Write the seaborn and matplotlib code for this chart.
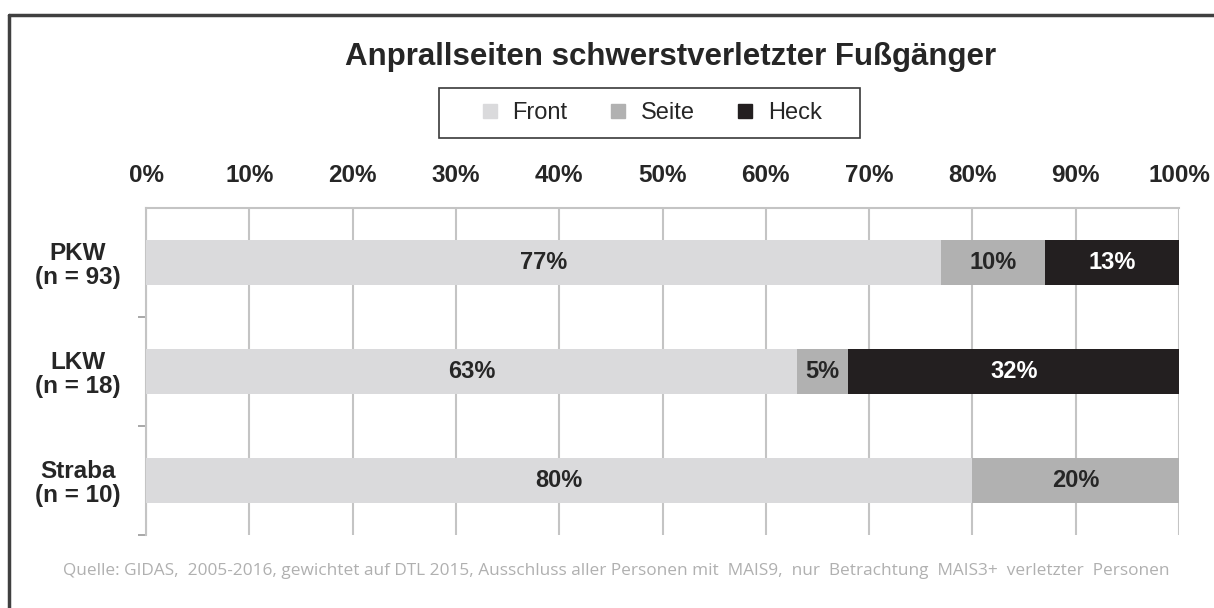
import numpy as np, pandas as pd
import matplotlib
matplotlib.use('Agg')
import matplotlib.pyplot as plt
from matplotlib.lines import Line2D
from matplotlib.patches import Rectangle
import seaborn as sns

categories = ['PKW\n(n = 93)', 'LKW\n(n = 18)', 'Straba\n(n = 10)']
front = [77, 63, 80]
seite = [10, 5, 20]
heck = [13, 32, 0]
series = ['Front', 'Seite', 'Heck']
colors = {'Front': '#dadadc', 'Seite': '#b1b1b1', 'Heck': '#231f20'}
text_colors = {'Front': '#262626', 'Seite': '#262626', 'Heck': 'white'}
ticks = [0, 10, 20, 30, 40, 50, 60, 70, 80, 90, 100]

sns.set_style('white')
plt.rcParams['font.family'] = ['Liberation Sans', 'DejaVu Sans']

df = pd.DataFrame({'cat': categories, 'Front': front, 'Seite': seite, 'Heck': heck})
df['c_front'] = df['Front']
df['c_seite'] = df['Front'] + df['Seite']
df['c_heck'] = df['c_seite'] + df['Heck']

fig = plt.figure(figsize=(12.14, 6.08), dpi=100)
ax = fig.add_axes([0.1203, 0.1201, 0.8509, 0.5378])

# stacked by overlaying cumulative totals, widest first
for col, s in [('c_heck', 'Heck'), ('c_seite', 'Seite'), ('c_front', 'Front')]:
    sns.barplot(data=df, x=col, y='cat', color=colors[s], width=0.41,
                saturation=1, ax=ax, zorder=3, linewidth=0)

ax.set_xlim(0, 100)
ax.set_ylim(2.5, -0.5)
ax.set_xlabel(''); ax.set_ylabel('')
ax.set_xticks(ticks)
ax.set_xticklabels([f'{t}%' for t in ticks], fontsize=17.5, fontweight='bold', color='#262626')
ax.xaxis.tick_top()
ax.tick_params(axis='x', length=0, pad=15)
ax.grid(axis='x', color='#c4c4c4', lw=1.5, zorder=0)
ax.set_yticks(range(len(categories)))
ax.set_yticklabels(categories, fontsize=17.5, fontweight='bold', color='#262626',
                   multialignment='center', ha='center')
for lab in ax.get_yticklabels():
    lab.set_linespacing(1.05)
ax.tick_params(axis='y', length=0, pad=49)
ax.set_yticks([0.5, 1.5, 2.5], minor=True)
ax.tick_params(axis='y', which='minor', left=True, length=6, color='#999999', width=1.2)
for side in ['right', 'bottom']:
    ax.spines[side].set_visible(False)
for side in ['left', 'top']:
    ax.spines[side].set_color('#c4c4c4')
    ax.spines[side].set_linewidth(1.5)

# segment labels
for i in range(len(categories)):
    start = 0
    for s in series:
        v = df[s].iloc[i]
        if v > 0:
            ax.text(start + v / 2, i, f'{v}%', ha='center', va='center', fontsize=17,
                    fontweight='bold', color=text_colors[s], zorder=5)
        start += v

# legend with a separate box
handles = [Line2D([], [], marker='s', ls='', markersize=10, color=colors[s]) for s in series]
leg = fig.legend(handles, series, loc='center', bbox_to_anchor=(0.5354, 0.8141), ncol=3,
                 frameon=False, fontsize=17, handletextpad=0.45, columnspacing=1.65,
                 borderpad=0, handlelength=1.0)
for t in leg.get_texts():
    t.set_color('#262626')
fig.add_artist(Rectangle((439 / 1214, 1 - 138 / 608), 421 / 1214, 50 / 608,
                         transform=fig.transFigure, fill=False, ec='#3a3a3a', lw=1.2))

fig.text(0.552, 0.906, 'Anprallseiten schwerstverletzter Fußgänger', ha='center', va='center',
         fontsize=22.5, fontweight='bold', color='#262626')
fig.text(0.508, 0.061, 'Quelle: GIDAS,  2005-2016, gewichtet auf DTL 2015, Ausschluss aller Personen mit  MAIS9,  '
         'nur  Betrachtung  MAIS3+  verletzter  Personen', ha='center', va='center',
         fontsize=12.4, color='#b0b0b0', family=['Open Sans', 'DejaVu Sans'])

# outer frame (top and left edges)
fig.add_artist(Line2D([0.0074, 1.0], [0.9753, 0.9753], color='#404040', lw=2.5))
fig.add_artist(Line2D([0.0074, 0.0074], [0.0, 0.9753], color='#404040', lw=2.5))

fig.savefig('out.png', dpi=100)
